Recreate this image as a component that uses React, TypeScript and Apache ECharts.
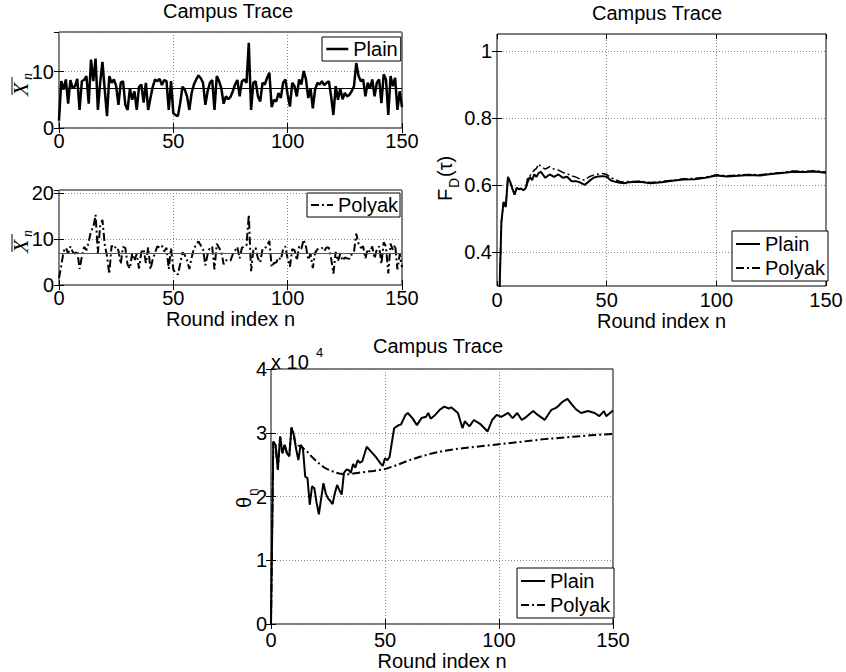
import React, { useEffect, useRef } from "react";
import * as echarts from "echarts";

// ---------- data ----------
const chartTitle = "Campus Trace";
const xLabelName = "Round index n";
const legendPlain = "Plain";
const legendPolyak = "Polyak";
const meanLevel = 7;

// Panel 1: per-round sample average, plain (rounds 0..150)
const plainX = [
  1.3, 8.3, 6.8, 8.6, 4.3, 8.5, 7, 7.4, 8.7, 3.2, 8.3, 8.5, 9.2, 4.3, 12.1, 8.3, 12.3, 3.2, 8, 11.7,
  6.8, 2.1, 9.2, 8, 8.6, 7.4, 4.1, 8, 8.3, 4.1, 3.2, 7, 5, 6.5, 3.2, 7.3, 7.7, 4.5, 8, 3.2,
  5.3, 7.3, 8.6, 8.3, 8.7, 7.6, 8.5, 8.3, 3.2, 8.3, 2.6,
  2.3, 2.1, 4.4, 7.3, 6.8, 5.6, 3.2, 6.2, 7.7, 8.6, 9.3, 8.8, 8, 4.1, 6.5, 8, 8.5, 3.2, 9.2, 8.3,
  7, 4.3, 5.6, 5.1, 5.5, 6.5, 7.7, 8.5, 5.6, 8.3, 8.6, 8, 15.1, 3.2, 8, 8.3, 5.6, 4.7, 8, 7.7,
  8.9, 9.8, 3.7, 5, 4.7, 6.2, 5.3, 8, 8.6,
  5.9, 3.8, 8, 7.4, 5.6, 8.6, 7.7, 10.1, 8.6, 5.3, 7, 3.5, 6.8, 8, 7.7, 8.3, 7.6, 8, 8.3, 5.6,
  2.3, 7.4, 5, 7, 5.1, 6.2, 5.6, 5.9, 6.5, 7.4, 11.5, 9.2, 8.3, 8.6, 5.6, 8, 7, 8.6, 5.6, 8,
  8.6, 4.4, 9.5, 8.6, 2.3, 9.2, 7.4, 8.9, 3.2, 6.5, 3.7,
];

// Panel 2: per-round sample average, Polyak (rounds 0..150)
const polyakX = [
  1.5, 4.2, 7.3, 8.1, 6.9, 8.4, 7.2, 6.8, 7.5, 3.5, 6.2, 8.3, 7.6, 9.4, 11.8, 12.5, 15.3, 7.0, 12.8, 14.2,
  8.8, 6.3, 2.4, 8.6, 7.9, 8.4, 7.5, 4.6, 8.3, 8.1, 4.4, 3.6, 6.9, 5.3, 6.8, 3.6, 7.1, 7.8, 4.8, 8.2,
  3.4, 5.6, 7.0, 8.4, 8.2, 8.6, 7.3, 8.1, 3.5, 8.0, 3.4,
  2.5, 2.3, 4.6, 7.1, 6.5, 5.4, 3.5, 6.0, 7.9, 8.8, 9.5, 8.6, 7.8, 4.3, 6.7, 8.2, 8.3, 3.4, 9.0, 8.1,
  7.2, 4.5, 5.4, 5.3, 5.3, 6.7, 7.5, 8.3, 5.8, 8.1, 8.4, 8.6, 15.3, 3.0, 7.6, 8.1, 5.8, 4.9, 7.8, 7.9,
  8.7, 9.6, 3.9, 4.8, 4.9, 6.0, 5.5, 7.8, 8.4,
  5.7, 4.0, 7.8, 7.6, 5.4, 8.4, 7.9, 9.9, 8.4, 5.5, 6.8, 3.7, 7.0, 7.8, 7.9, 8.1, 7.4, 8.2, 8.1, 5.8,
  2.5, 7.2, 5.2, 6.8, 5.3, 6.0, 5.8, 5.7, 6.7, 7.2, 11.2, 9.0, 8.1, 8.4, 5.8, 7.8, 7.2, 8.4, 5.8, 7.8,
  8.4, 4.6, 9.3, 8.4, 2.5, 9.0, 7.6, 8.7, 3.4, 6.7, 3.9,
];

// Panel 3: F_D(tau)
const fdRounds = [
  1, 2, 3, 4, 5, 6, 7, 8, 9, 10, 11, 12, 13, 14, 15, 16, 17, 18, 19, 20,
  22, 24, 26, 28, 30, 32, 34, 36, 38, 40, 42, 44, 46, 48, 50, 52, 54, 56, 58, 60,
  65, 70, 75, 80, 85, 90, 95, 100, 105, 110, 115, 120, 125, 130, 135, 140, 145, 150,
];
const fdPlain = [
  0.25, 0.49, 0.55, 0.535, 0.625, 0.61, 0.59, 0.572, 0.592, 0.588, 0.59, 0.585, 0.59, 0.61, 0.625, 0.615, 0.632, 0.625, 0.636, 0.64,
  0.622, 0.632, 0.625, 0.632, 0.622, 0.625, 0.612, 0.612, 0.608, 0.601, 0.612, 0.622, 0.626, 0.627, 0.625, 0.614, 0.61, 0.607, 0.606, 0.609,
  0.61, 0.606, 0.609, 0.613, 0.617, 0.618, 0.622, 0.629, 0.626, 0.628, 0.63, 0.629, 0.633, 0.636, 0.64, 0.639, 0.641, 0.637,
];
const fdPolyak = [
  0.25, 0.49, 0.55, 0.535, 0.625, 0.61, 0.59, 0.572, 0.592, 0.588, 0.59, 0.585, 0.59, 0.622, 0.628, 0.637, 0.645, 0.65, 0.663, 0.655,
  0.648, 0.655, 0.648, 0.645, 0.638, 0.634, 0.628, 0.624, 0.618, 0.615, 0.625, 0.63, 0.633, 0.635, 0.632, 0.622, 0.617, 0.611, 0.609, 0.611,
  0.612, 0.608, 0.611, 0.615, 0.619, 0.62, 0.624, 0.631, 0.628, 0.63, 0.632, 0.631, 0.635, 0.638, 0.642, 0.641, 0.643, 0.639,
];

// Panel 4: theta_n
const thetaPlainRounds = [
  0, 1, 2, 3, 4, 5, 6, 7, 8, 9, 10, 11, 12, 13, 14, 15, 16, 17, 18, 19,
  20, 21, 22, 23, 24, 25, 26, 27, 28, 29, 30, 31, 32, 33, 34, 35, 36, 37, 38, 39,
  40, 42, 44, 46, 48, 49, 50, 51, 52, 54, 56, 57, 59, 60, 62, 64, 66, 68, 69, 70,
  72, 74, 76, 78, 79, 82, 84, 85, 87, 89, 92, 95, 97, 99, 101, 104, 106, 108, 110, 112,
  115, 117, 119, 120, 123, 125, 126, 128, 130, 132, 134, 136, 139, 142, 144, 146, 147, 150,
];
const thetaPlain = [
  0, 28600, 28100, 24200, 29400, 26800, 28100, 26800, 26300, 30800, 29700, 27500, 25700, 28100, 27600, 23100, 22900, 18700, 21600, 21300,
  19000, 17200, 19700, 22100, 20500, 19700, 19300, 18800, 20500, 21800, 21000, 20300, 23700, 24200, 24200, 23700, 25100, 24500, 25700, 25300,
  25500, 27800, 27000, 26200, 25200, 24800, 26000, 25700, 26200, 30700, 31200, 31300, 32800, 33100, 32300, 31200, 32300, 32500, 33100, 32200,
  32800, 33600, 34100, 33800, 34000, 33100, 30700, 31800, 31000, 32000, 31300, 30200, 32000, 32800, 32500, 33100, 32300, 33100, 32000, 32500,
  33400, 32800, 32300, 32000, 33600, 33900, 34200, 34900, 35300, 34400, 33600, 33100, 33400, 33100, 32600, 33400, 32600, 33500,
];
const thetaPolyakRounds = [
  0, 1, 2, 3, 4, 5, 6, 7, 8, 9, 10, 11, 12, 13, 14, 16, 18, 20, 22, 24,
  26, 28, 30, 32, 34, 36, 38, 40, 45, 50, 55, 60, 65, 70, 75, 80, 85, 90, 95, 100,
  110, 120, 130, 140, 150,
];
const thetaPolyak = [
  0, 28600, 28100, 24200, 29400, 26800, 28100, 26800, 26300, 30800, 29700, 27500, 28000, 27800, 27600, 27000, 26200, 25500, 24900, 24400,
  24100, 23800, 23600, 23500, 23500, 23600, 23700, 23800, 24000, 24300, 24900, 25600, 26200, 26700, 27100, 27400, 27600, 27800, 28000, 28200,
  28600, 29000, 29300, 29600, 29800,
];

const roundTicks = { min: 0, max: 150, interval: 50 };

// ---------- styling helpers ----------
const SANS = '"Liberation Sans", Arial, Helvetica, sans-serif';
const SERIF = '"Liberation Serif", "Times New Roman", serif';
const DASH_DOT = [8, 3, 2, 3];

const gridLine = { show: true, lineStyle: { color: "#8a8a8a", width: 1, type: [1, 2] } };

function mainX(gridIndex: number, withName: boolean, margin: number, nameGap: number) {
  return {
    type: "value",
    gridIndex,
    position: "bottom",
    ...roundTicks,
    name: withName ? xLabelName : "",
    nameLocation: "middle",
    nameGap,
    nameTextStyle: { color: "#000", fontSize: 20, fontFamily: SANS },
    axisLine: { show: false },
    axisTick: { show: true, inside: true, length: 5, lineStyle: { color: "#000" } },
    axisLabel: { color: "#000", fontSize: 20, fontFamily: SANS, margin },
    splitLine: gridLine,
  };
}
function mirrorX(gridIndex: number) {
  return {
    type: "value",
    gridIndex,
    position: "top",
    ...roundTicks,
    axisLine: { show: false },
    axisTick: { show: true, inside: true, length: 5, lineStyle: { color: "#000" } },
    axisLabel: { show: false },
    splitLine: { show: false },
  };
}
function mainY(gridIndex: number, extra: any) {
  return {
    type: "value",
    gridIndex,
    position: "left",
    axisLine: { show: false },
    axisTick: { show: true, inside: true, length: 5, lineStyle: { color: "#000" } },
    axisLabel: { color: "#000", fontSize: 20, fontFamily: SANS, margin: 5, showMaxLabel: false },
    splitLine: gridLine,
    ...extra,
  };
}
function mirrorY(gridIndex: number, extra: any) {
  return {
    type: "value",
    gridIndex,
    position: "right",
    axisLine: { show: false },
    axisTick: { show: true, inside: true, length: 5, lineStyle: { color: "#000" } },
    axisLabel: { show: false },
    splitLine: { show: false },
    ...extra,
  };
}

const meanLine = (color: string) => ({
  silent: true,
  symbol: "none",
  label: { show: false },
  lineStyle: { color, width: 1.2, type: "solid" },
  data: [{ yAxis: meanLevel }],
});

const legendBase = {
  orient: "vertical",
  backgroundColor: "#fff",
  borderColor: "#000",
  borderWidth: 1,
  borderRadius: 0,
  itemWidth: 24,
  itemHeight: 14,
  itemGap: 4,
  selectedMode: false,
  itemStyle: { opacity: 0 },
  textStyle: { color: "#000", fontSize: 20, fontFamily: SANS },
};

// rotated y-axis label made of pieces
function rotatedLabel(x: number, y: number, parts: any[]) {
  return { type: "group", x, y, rotation: Math.PI / 2, children: parts };
}

export default function App() {
  const ref = useRef<HTMLDivElement>(null);
  useEffect(() => {
    if (!ref.current) return;
    const chart = echarts.init(ref.current, undefined, { renderer: "svg" });
    const idx = (arr: number[]) => arr.map((v, i) => [i, v]);
    const pairs = (xs: number[], ys: number[]) => xs.map((x, i) => [x, ys[i]]);

    const option: any = {
      animation: false,
      backgroundColor: "#fff",
      title: [
        { text: chartTitle, left: 163, top: 1, padding: 0, textStyle: { fontSize: 20, fontWeight: "normal", color: "#000", fontFamily: SANS } },
        { text: chartTitle, left: 592, top: 3, padding: 0, textStyle: { fontSize: 20, fontWeight: "normal", color: "#000", fontFamily: SANS } },
        { text: chartTitle, left: 373, top: 336, padding: 0, textStyle: { fontSize: 20, fontWeight: "normal", color: "#000", fontFamily: SANS } },
      ],
      grid: [
        { left: 59, top: 32, width: 343, height: 96, show: true, borderColor: "#000", borderWidth: 1 },
        { left: 59, top: 190, width: 343, height: 95, show: true, borderColor: "#000", borderWidth: 1 },
        { left: 497, top: 34, width: 329, height: 252, show: true, borderColor: "#000", borderWidth: 1 },
        { left: 271, top: 369, width: 342, height: 255, show: true, borderColor: "#000", borderWidth: 1 },
      ],
      xAxis: [
        mainX(0, false, 3, 20),
        mainX(1, true, 3, 21),
        mainX(2, true, 4, 22),
        mainX(3, true, 6, 23),
        mirrorX(0),
        mirrorX(1),
        mirrorX(2),
        mirrorX(3),
      ],
      yAxis: [
        mainY(0, { min: 0, max: 17, interval: 10 }),
        mainY(1, { min: 0, max: 20.7, interval: 10 }),
        mainY(2, {
          min: 0.3,
          max: 1.05,
          axisTick: { show: true, inside: true, length: 5, lineStyle: { color: "#000" }, customValues: [0.4, 0.6, 0.8, 1] },
          axisLabel: { color: "#000", fontSize: 20, fontFamily: SANS, margin: 5, customValues: [0.4, 0.6, 0.8, 1] },
        }),
        mainY(3, {
          min: 0,
          max: 40000,
          interval: 10000,
          axisLabel: { color: "#000", fontSize: 20, fontFamily: SANS, margin: 4, formatter: (v: number) => String(v / 10000) },
        }),
        mirrorY(0, { min: 0, max: 17, interval: 10 }),
        mirrorY(1, { min: 0, max: 20.7, interval: 10 }),
        mirrorY(2, { min: 0.3, max: 1.05, axisTick: { show: true, inside: true, length: 5, lineStyle: { color: "#000" }, customValues: [0.4, 0.6, 0.8, 1] } }),
        mirrorY(3, { min: 0, max: 40000, interval: 10000 }),
      ],
      legend: [
        { ...legendBase, data: [legendPlain], left: 322, top: 37, itemWidth: 22, padding: [2, 3, 2, 3], lineStyle: { width: 2.5 } },
        { ...legendBase, data: [legendPolyak], left: 307, top: 193, itemWidth: 22, padding: [2, 2, 2, 3], lineStyle: { width: 2 } },
        { ...legendBase, data: [legendPlain, legendPolyak], left: 732, top: 231, padding: [3, 3, 3, 3], lineStyle: { width: 2 } },
        { ...legendBase, data: [legendPlain, legendPolyak], left: 517, top: 568, padding: [3, 4, 3, 3], lineStyle: { width: 2 } },
      ],
      series: [
        {
          name: legendPlain, type: "line", xAxisIndex: 0, yAxisIndex: 0, symbol: "none",
          lineStyle: { color: "#000", width: 2.5 }, itemStyle: { color: "#000" },
          data: idx(plainX), markLine: meanLine("#000"),
        },
        {
          name: legendPolyak, type: "line", xAxisIndex: 1, yAxisIndex: 1, symbol: "none",
          lineStyle: { color: "#000", width: 2, type: DASH_DOT }, itemStyle: { color: "#000" },
          data: idx(polyakX), markLine: meanLine("#555"),
        },
        {
          name: legendPolyak, type: "line", xAxisIndex: 2, yAxisIndex: 2, symbol: "none",
          lineStyle: { color: "#000", width: 1.5, type: DASH_DOT }, itemStyle: { color: "#000" },
          data: pairs(fdRounds, fdPolyak),
        },
        {
          name: legendPlain, type: "line", xAxisIndex: 2, yAxisIndex: 2, symbol: "none",
          lineStyle: { color: "#000", width: 2 }, itemStyle: { color: "#000" },
          data: pairs(fdRounds, fdPlain),
        },
        {
          name: legendPlain, type: "line", xAxisIndex: 3, yAxisIndex: 3, symbol: "none",
          lineStyle: { color: "#000", width: 2 }, itemStyle: { color: "#000" },
          data: pairs(thetaPlainRounds, thetaPlain),
        },
        {
          name: legendPolyak, type: "line", xAxisIndex: 3, yAxisIndex: 3, symbol: "none",
          lineStyle: { color: "#000", width: 2, type: DASH_DOT }, itemStyle: { color: "#000" },
          data: pairs(thetaPolyakRounds, thetaPolyak),
        },
      ],
      graphic: [
        rotatedLabel(31, 96, [
          { type: "text", x: 0, y: 0, style: { text: "X", font: `italic 22px ${SERIF}`, textAlign: "left", textVerticalAlign: "bottom", fill: "#000" } },
          { type: "text", x: 16, y: 3, style: { text: "n", font: `italic 14px ${SERIF}`, textAlign: "left", textVerticalAlign: "bottom", fill: "#000" } },
          { type: "line", shape: { x1: 1, y1: -19, x2: 19, y2: -19 }, style: { stroke: "#000", lineWidth: 1 } },
        ]),
        rotatedLabel(31, 253, [
          { type: "text", x: 0, y: 0, style: { text: "X", font: `italic 22px ${SERIF}`, textAlign: "left", textVerticalAlign: "bottom", fill: "#000" } },
          { type: "text", x: 16, y: 3, style: { text: "n", font: `italic 14px ${SERIF}`, textAlign: "left", textVerticalAlign: "bottom", fill: "#000" } },
          { type: "line", shape: { x1: 1, y1: -19, x2: 19, y2: -19 }, style: { stroke: "#000", lineWidth: 1 } },
        ]),
        rotatedLabel(455, 201, [
          { type: "text", x: 0, y: 0, style: { text: "F", font: `20px ${SANS}`, textAlign: "left", textVerticalAlign: "bottom", fill: "#000" } },
          { type: "text", x: 13, y: 6, style: { text: "D", font: `14px ${SANS}`, textAlign: "left", textVerticalAlign: "bottom", fill: "#000" } },
          { type: "text", x: 24, y: 0, style: { text: "(τ)", font: `20px ${SANS}`, textAlign: "left", textVerticalAlign: "bottom", fill: "#000" } },
        ]),
        rotatedLabel(254, 508, [
          { type: "text", x: 0, y: 0, style: { text: "θ", font: `20px ${SANS}`, textAlign: "left", textVerticalAlign: "bottom", fill: "#000" } },
          { type: "text", x: 12, y: 6, style: { text: "n", font: `14px ${SANS}`, textAlign: "left", textVerticalAlign: "bottom", fill: "#000" } },
        ]),
        { type: "text", left: 271, top: 352, style: { text: "x 10", font: `20px ${SANS}`, fill: "#000" } },
        { type: "text", left: 316, top: 346, style: { text: "4", font: `13px ${SANS}`, fill: "#000" } },
      ],
    };
    chart.setOption(option);
    return () => chart.dispose();
  }, []);
  return (
    <div
      ref={ref}
      style={{ position: "fixed", left: 0, top: 0, width: 846, height: 672, background: "#fff" }}
    />
  );
}
